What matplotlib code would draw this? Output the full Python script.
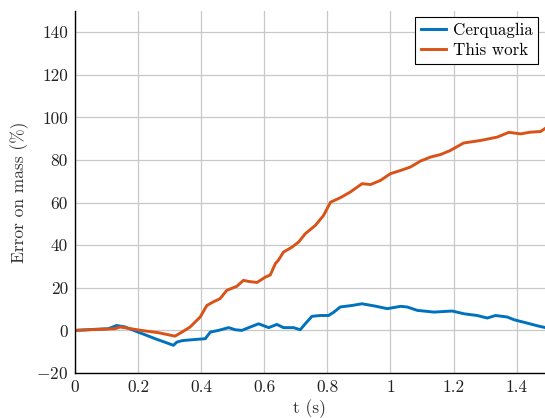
import matplotlib
matplotlib.use("Agg")
import matplotlib.pyplot as plt

plt.rcParams["font.family"] = ["cmr10", "DejaVu Serif"]
plt.rcParams["mathtext.fontset"] = "cm"
plt.rcParams["axes.formatter.use_mathtext"] = True
plt.rcParams["axes.unicode_minus"] = True

# Mass error over time, Cerquaglia reference
t_cerq = [0.0, 0.05, 0.106, 0.132, 0.159, 0.2, 0.23, 0.254, 0.29, 0.312, 0.323,
          0.34, 0.37, 0.413, 0.429, 0.455, 0.487, 0.508, 0.529, 0.556, 0.582,
          0.614, 0.64, 0.661, 0.693, 0.714, 0.73, 0.751, 0.778, 0.804, 0.82,
          0.841, 0.878, 0.91, 0.952, 0.99, 1.032, 1.053, 1.085, 1.138, 1.196,
          1.233, 1.275, 1.307, 1.333, 1.37, 1.392, 1.434, 1.47, 1.492]
e_cerq = [0.0, 0.4, 0.8, 2.3, 1.6, -0.8, -2.5, -3.9, -5.8, -7.0, -5.5,
          -4.8, -4.4, -3.9, -0.8, 0.0, 1.3, 0.3, 0.0, 1.6, 3.1,
          1.3, 2.8, 1.3, 1.3, 0.3, 3.1, 6.6, 7.0, 7.0, 8.5,
          11.0, 11.7, 12.5, 11.4, 10.2, 11.3, 11.0, 9.4, 8.6, 9.1,
          7.8, 7.0, 5.8, 7.0, 6.3, 5.0, 3.4, 2.0, 1.3]

# Mass error over time, present method
t_work = [0.0, 0.06, 0.127, 0.143, 0.21, 0.265, 0.317, 0.339, 0.365, 0.397,
          0.418, 0.44, 0.46, 0.481, 0.513, 0.534, 0.55, 0.577, 0.603, 0.619,
          0.635, 0.645, 0.661, 0.688, 0.709, 0.73, 0.762, 0.788, 0.81, 0.841,
          0.873, 0.91, 0.937, 0.968, 1.0, 1.032, 1.063, 1.095, 1.127, 1.159,
          1.19, 1.232, 1.286, 1.339, 1.375, 1.413, 1.444, 1.476, 1.492]
e_work = [0.0, 0.4, 0.8, 1.6, 0.0, -1.1, -2.7, -0.8, 1.6, 6.3,
          11.7, 13.5, 14.9, 18.8, 20.7, 23.5, 23.0, 22.5, 25.0, 26.0,
          31.3, 33.0, 36.8, 39.1, 41.5, 45.4, 49.3, 54.0, 60.2, 62.3,
          65.0, 68.9, 68.5, 70.4, 73.6, 75.1, 76.7, 79.5, 81.4, 82.6,
          84.5, 88.0, 89.2, 90.8, 93.0, 92.3, 93.1, 93.4, 95.0]

x_ticks = [0, 0.2, 0.4, 0.6, 0.8, 1.0, 1.2, 1.4]
x_tick_labels = ["0", "0.2", "0.4", "0.6", "0.8", "1", "1.2", "1.4"]
y_ticks = [-20, 0, 20, 40, 60, 80, 100, 120, 140]

fig = plt.figure(figsize=(5.45, 4.18), dpi=100)
ax = fig.add_axes([0.1376, 0.1077, 0.8624, 0.866])

ax.plot(t_cerq, e_cerq, color="#0072BD", lw=2.1, label="Cerquaglia")
ax.plot(t_work, e_work, color="#D95319", lw=2.1, label="This work")

ax.set_xlim(0, 1.49)
ax.set_ylim(-20, 150)
ax.set_xticks(x_ticks)
ax.set_xticklabels(x_tick_labels)
ax.set_yticks(y_ticks)
ax.set_yticklabels([f"${v}$" if v < 0 else str(v) for v in y_ticks])

ax.grid(True, color="#c8c8c8", lw=0.9)
ax.set_axisbelow(True)
ax.tick_params(length=0, labelsize=12.5, pad=5, colors="#222222")
for side in ("top", "right"):
    ax.spines[side].set_visible(False)
for side in ("left", "bottom"):
    ax.spines[side].set_color("black")
    ax.spines[side].set_linewidth(1.0)

ax.set_xlabel("t (s)", fontsize=12.5, labelpad=3, color="#333333")
ax.set_ylabel("Error on mass (%)", fontsize=12.5, labelpad=5, color="#333333")

leg = ax.legend(loc="upper right", fontsize=12.2, frameon=True, fancybox=False,
                framealpha=1, edgecolor="black", borderpad=0.35,
                handlelength=1.45, handletextpad=0.4, labelspacing=0.3,
                borderaxespad=0, bbox_to_anchor=(0.986, 0.984))
leg.get_frame().set_linewidth(0.8)

fig.savefig("out.png", dpi=100)
